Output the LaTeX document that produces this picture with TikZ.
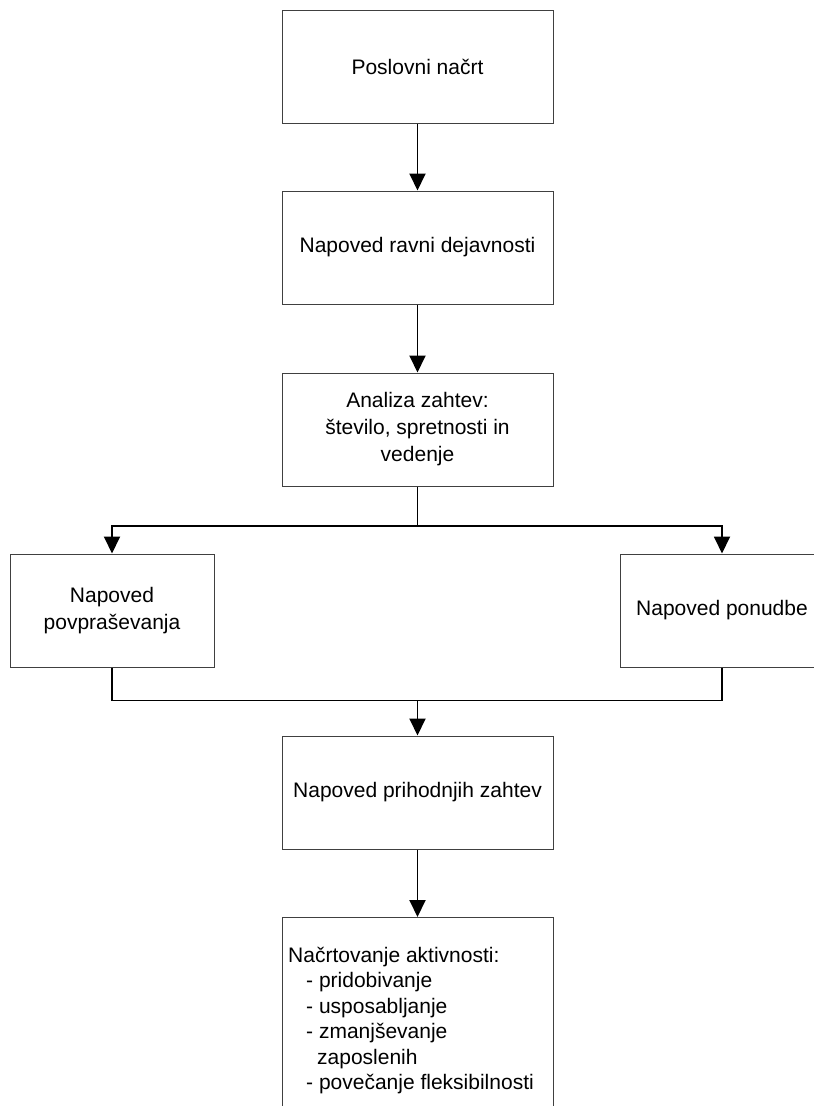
\documentclass[tikz,border=0pt]{standalone}
\usepackage{fontspec}
\setmainfont{Liberation Sans}
\usetikzlibrary{arrows.meta}
\begin{document}
\begin{tikzpicture}[x=1pt,y=-1pt,
  box/.style={draw=black!75,line width=1pt,rectangle,minimum width=271pt,minimum height=113pt,inner sep=4pt,align=center,font=\fontsize{21}{27}\selectfont},
  sidebox/.style={box,minimum width=204pt},
  conn/.style={draw=black,line width=1.9pt},
  arr/.style={conn,-{Triangle[length=17pt,width=16pt]}}]
\useasboundingbox (0,0) rectangle (814,1106);
\clip (0,0) rectangle (814,1106);
\node[box] (b1) at (417.5,66.5) {Poslovni načrt};
\node[box] (b2) at (417.5,247.5) {Napoved ravni dejavnosti};
\node[box] (b3) at (417.5,429.5) {\raisebox{-3pt}{\parbox{260pt}{\centering Analiza zahtev:\\število, spretnosti in\\vedenje}}};
\node[sidebox] (b4) at (112,610.5) {\raisebox{-2pt}{\parbox{190pt}{\centering Napoved\\povpraševanja}}};
\node[sidebox] (b5) at (722,610.5) {Napoved ponudbe};
\node[box] (b6) at (417.5,792.5) {Napoved prihodnjih zahtev};
\node[box,minimum height=230pt,anchor=north] (b7) at (417.5,917) {};
\node[anchor=north west,inner sep=0pt,align=left,font=\fontsize{21}{25.4}\selectfont] (b7t) at (288,947)
 {Načrtovanje aktivnosti:\\
  \hspace*{18pt}- pridobivanje\\
  \hspace*{18pt}- usposabljanje\\
  \hspace*{18pt}- zmanjševanje\\
  \hspace*{29pt}zaposlenih\\
  \hspace*{18pt}- povečanje fleksibilnosti};
\coordinate (split) at (417.5,526);
\coordinate (merge) at (417.5,700.5);
\draw[arr] (b1) -- (b2);
\draw[arr] (b2) -- (b3);
\draw[conn] (b3.south) -- (split);
\draw[arr] (split) -| (b4.north);
\draw[arr] (split) -| (b5.north);
\draw[conn] (b4.south) |- (merge);
\draw[conn] (b5.south) |- (merge);
\draw[arr] (merge) -- (b6.north);
\draw[arr] (b6) -- (b7);
\end{tikzpicture}
\end{document}
